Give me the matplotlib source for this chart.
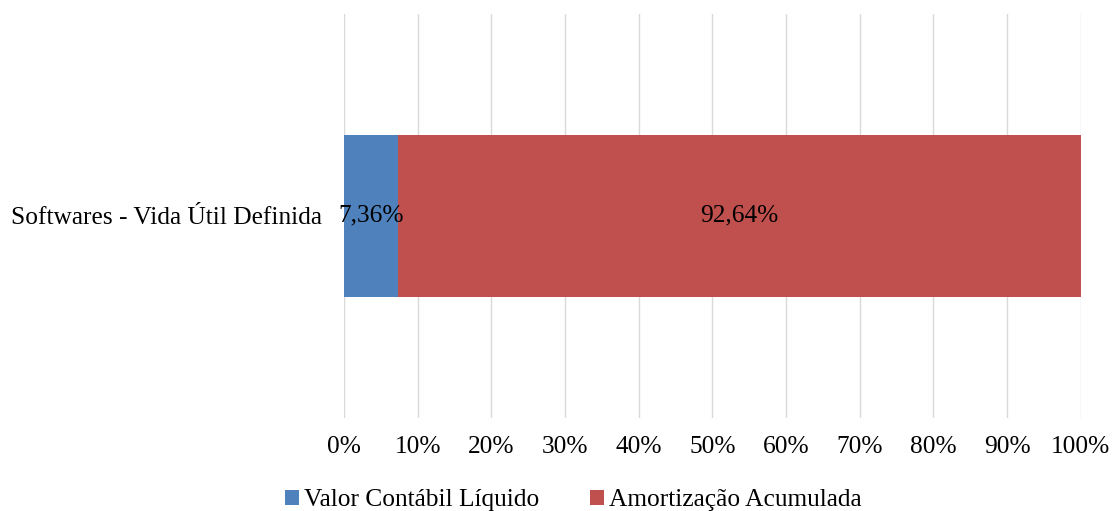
import matplotlib
matplotlib.use("Agg")
import matplotlib.pyplot as plt
from matplotlib.ticker import FuncFormatter

categories = ["Softwares - Vida Útil Definida"]
series_names = ["Valor Contábil Líquido", "Amortização Acumulada"]
valor_liquido = [7.36]
amortizacao = [92.64]
colors = ["#4F81BD", "#C0504D"]

plt.rcParams['font.family'] = ['Liberation Serif', 'DejaVu Serif']
FS = 18.3

fig = plt.figure(figsize=(11.13, 5.11), dpi=100)
ax = fig.add_axes([0.309, 0.182, 0.662, 0.791])

y = list(range(len(categories)))
b1 = ax.barh(y, valor_liquido, height=0.4, color=colors[0], label=series_names[0], zorder=3)
b2 = ax.barh(y, amortizacao, left=valor_liquido, height=0.4, color=colors[1], label=series_names[1], zorder=3)

for bars, vals in ((b1, valor_liquido), (b2, amortizacao)):
    for rect, v in zip(bars, vals):
        cx = rect.get_x() + rect.get_width() / 2
        cy = rect.get_y() + rect.get_height() / 2
        ax.text(cx, cy, f"{v:.2f}%".replace(".", ","), ha="center", va="center",
                fontsize=FS, color="black", zorder=4)

ax.set_xlim(0, 100)
ax.set_ylim(-0.5, 0.5)
ax.set_xticks(range(0, 101, 10))
ax.xaxis.set_major_formatter(FuncFormatter(lambda v, p: f"{int(v)}%"))
ax.set_yticks(y)
ax.set_yticklabels(categories)
ax.tick_params(axis="both", length=0, labelsize=FS)
ax.tick_params(axis="x", pad=13)
ax.tick_params(axis="y", pad=16)
ax.grid(axis="x", color="#D9D9D9", linewidth=1, zorder=0)
for s in ax.spines.values():
    s.set_visible(False)

fig.legend(handles=[b1, b2], loc="center", bbox_to_anchor=(0.515, 0.021), ncol=2,
           frameon=False, fontsize=FS, handlelength=0.55, handleheight=0.55,
           handletextpad=0.2, columnspacing=2.0, borderpad=0)

fig.savefig("out.png", dpi=100)
